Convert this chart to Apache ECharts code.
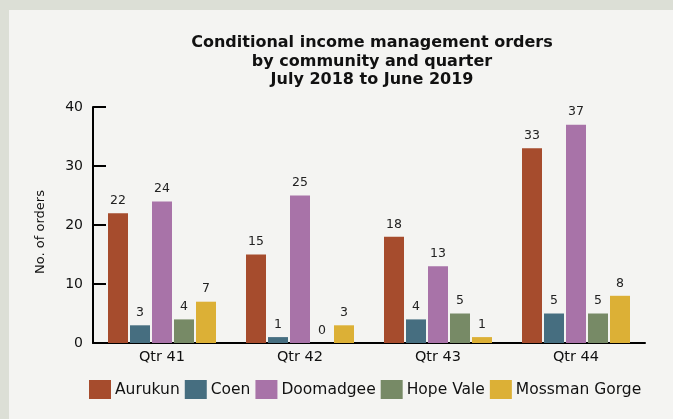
<!DOCTYPE html>
<html><head><meta charset="utf-8">
<script src="https://cdn.jsdelivr.net/npm/echarts@6/dist/echarts.min.js"></script>
<style>html,body{margin:0;padding:0;background:#dcdfd6}#c{width:673px;height:419px}</style>
</head><body><div id="c"></div>
<script>
const categories = ['Qtr 41', 'Qtr 42', 'Qtr 43', 'Qtr 44'];
const seriesNames = ['Aurukun', 'Coen', 'Doomadgee', 'Hope Vale', 'Mossman Gorge'];
const aurukun = [22, 15, 18, 33];
const coen = [3, 1, 4, 5];
const doomadgee = [24, 25, 13, 37];
const hopeVale = [4, 0, 5, 5];
const mossmanGorge = [7, 3, 1, 8];
const colors = ['#a64c2d', '#466e80', '#a873a8', '#778a66', '#dcb036'];
const values = [aurukun, coen, doomadgee, hopeVale, mossmanGorge];

const font = '"DejaVu Sans", sans-serif';
const chart = echarts.init(document.getElementById('c'));
chart.setOption({
  backgroundColor: '#dcdfd6',
  animation: false,
  textStyle: { fontFamily: font },
  graphic: [{ type: 'rect', z: -10, shape: { x: 9, y: 10, width: 700, height: 420 }, style: { fill: '#f4f4f2' } }],
  title: {
    text: 'Conditional income management orders\nby community and quarter\nJuly 2018 to June 2019',
    left: 367, textAlign: 'center', top: 29,
    textStyle: { fontFamily: font, fontWeight: 'bold', fontSize: 16, lineHeight: 18.5, color: '#111' }
  },
  legend: {
    data: seriesNames, left: 84, top: 375, itemWidth: 22, itemHeight: 19, itemGap: 5,
    icon: 'rect',
    textStyle: { fontFamily: font, fontSize: 15.5, color: '#111', padding: [0, 0, 0, -1] }
  },
  grid: { left: 93, right: 28, top: 107, bottom: 76 },
  xAxis: {
    type: 'category', data: categories,
    axisLine: { lineStyle: { color: '#000', width: 2 } },
    axisTick: { inside: true, length: 5, lineStyle: { color: '#000', width: 2 } },
    axisLabel: { fontFamily: font, fontSize: 14.5, color: '#111', margin: 7 }
  },
  yAxis: {
    type: 'value', min: 0, max: 40, interval: 10,
    name: 'No. of orders', nameLocation: 'middle', nameGap: 46,
    nameTextStyle: { fontFamily: font, fontSize: 13, color: '#111', padding: [0, 14, 0, 0] },
    axisLine: { show: true, lineStyle: { color: '#000', width: 2 } },
    axisTick: { show: true, inside: true, length: 13, lineStyle: { color: '#000', width: 2 } },
    axisLabel: { fontFamily: font, fontSize: 14, color: '#111', margin: 10 },
    splitLine: { show: false }
  },
  series: seriesNames.map((n, i) => ({
    name: n, type: 'bar', data: values[i], barWidth: 20, barGap: '10%',
    itemStyle: { color: colors[i] },
    label: { show: true, position: 'top', distance: 6, fontFamily: font, fontSize: 12.5, color: '#222' }
  }))
});
</script></body></html>
